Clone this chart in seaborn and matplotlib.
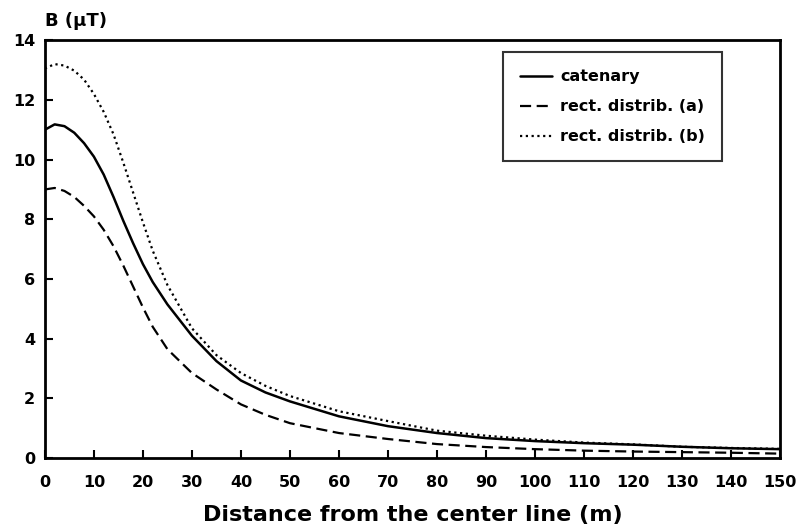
import matplotlib
matplotlib.use("Agg")
import matplotlib.pyplot as plt
import seaborn as sns
import pandas as pd

distance = [0, 2, 4, 6, 8, 10, 12, 14, 16, 18, 20, 22, 25, 30, 35, 40, 45, 50,
            60, 70, 80, 90, 100, 110, 120, 130, 140, 150]
catenary = [11.0, 11.18, 11.12, 10.9, 10.55, 10.1, 9.5, 8.75, 7.95, 7.2, 6.5, 5.9,
            5.15, 4.1, 3.25, 2.6, 2.2, 1.9, 1.4, 1.07, 0.84, 0.67, 0.57, 0.5,
            0.45, 0.38, 0.33, 0.3]
rect_a = [9.0, 9.05, 8.95, 8.75, 8.45, 8.1, 7.65, 7.1, 6.45, 5.75, 5.05, 4.4, 3.65,
          2.85, 2.3, 1.8, 1.45, 1.17, 0.84, 0.64, 0.47, 0.37, 0.3, 0.25, 0.22,
          0.2, 0.18, 0.15]
rect_b = [13.05, 13.2, 13.15, 12.98, 12.68, 12.2, 11.6, 10.85, 9.9, 8.9, 7.9, 6.95,
          5.8, 4.35, 3.45, 2.85, 2.42, 2.08, 1.57, 1.24, 0.92, 0.75, 0.62, 0.52,
          0.46, 0.38, 0.34, 0.31]
series_names = ["catenary", "rect. distrib. (a)", "rect. distrib. (b)"]
x_ticks = [0, 10, 20, 30, 40, 50, 60, 70, 80, 90, 100, 110, 120, 130, 140, 150]
y_ticks = [0, 2, 4, 6, 8, 10, 12, 14]

sns.set_theme(style="ticks")
plt.rcParams["font.family"] = ["DejaVu Sans"]
plt.rcParams["font.weight"] = "bold"
plt.rcParams["text.color"] = "black"
plt.rcParams["axes.labelcolor"] = "black"
plt.rcParams["xtick.color"] = "black"
plt.rcParams["ytick.color"] = "black"

fig = plt.figure(figsize=(8.01, 5.29), dpi=100)
ax = fig.add_axes([0.056, 0.134, 0.918, 0.79])

styles = [dict(linestyle="-", linewidth=1.8),
          dict(linestyle=(0, (5, 2.5)), linewidth=1.6),
          dict(linestyle=(0, (1, 1.6)), linewidth=1.6)]
for name, vals, st in zip(series_names, [catenary, rect_a, rect_b], styles):
    df = pd.DataFrame({"x": distance, "y": vals})
    sns.lineplot(data=df, x="x", y="y", ax=ax, color="black", label=name, **st)

ax.set_xlim(0, 150)
ax.set_ylim(0, 14)
ax.set_xticks(x_ticks)
ax.set_yticks(y_ticks)
ax.set_xticklabels([str(t) for t in x_ticks], fontsize=11.5, fontweight="bold")
ax.set_yticklabels([str(t) for t in y_ticks], fontsize=11.5, fontweight="bold")
ax.tick_params(direction="in", length=6, width=1.5, colors="black")
ax.tick_params(axis="x", pad=12)
ax.tick_params(axis="y", pad=7)
for s in ax.spines.values():
    s.set_visible(True)
    s.set_linewidth(2)
    s.set_color("black")

ax.set_xlabel("Distance from the center line (m)", fontsize=16, fontweight="bold",
              labelpad=11, color="black")
ax.set_ylabel("")
ax.text(0.0, 1.025, "B (μT)", transform=ax.transAxes, fontsize=13,
        fontweight="bold", ha="left", va="bottom", color="black")

leg = ax.legend(loc="upper left", bbox_to_anchor=(0.623, 0.971), fontsize=11.5,
                frameon=True, fancybox=False, edgecolor="black",
                handlelength=2.0, labelspacing=0.95, borderpad=1.05,
                handletextpad=0.55, borderaxespad=0)
leg.get_frame().set_linewidth(1.5)
for t in leg.get_texts():
    t.set_fontweight("bold")
    t.set_color("black")

fig.savefig("out.png", dpi=100)
